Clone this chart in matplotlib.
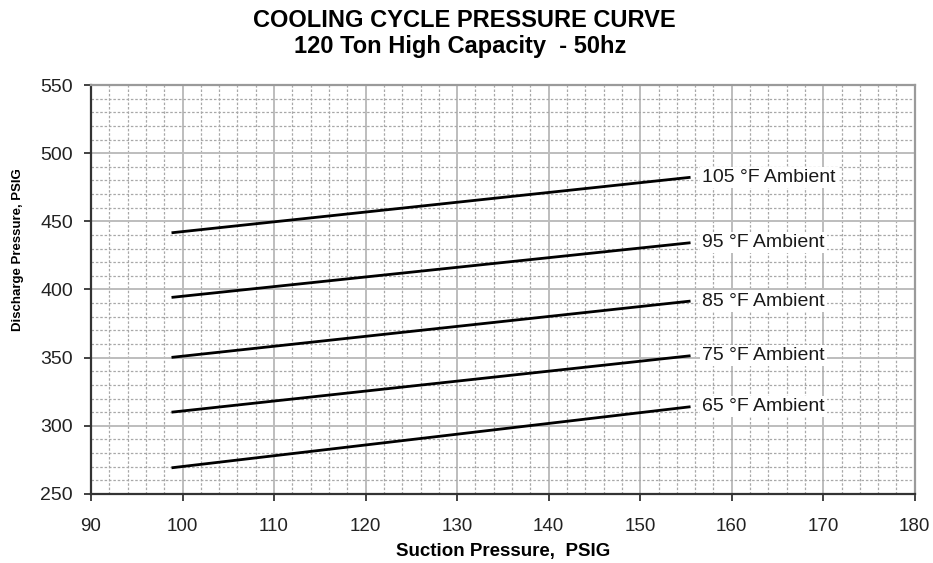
import matplotlib.pyplot as plt
from matplotlib.ticker import MultipleLocator

plt.rcParams['font.family'] = ['Liberation Sans', 'DejaVu Sans']

# Suction pressure endpoints (PSIG) shared by every curve
suction = [98.8, 155.5]

# Discharge pressure at each end for every ambient temperature
ambients = ['105 °F Ambient', '95 °F Ambient', '85 °F Ambient', '75 °F Ambient', '65 °F Ambient']
discharge = {
    '105 °F Ambient': [441.6, 482.3],
    '95 °F Ambient': [394.2, 434.3],
    '85 °F Ambient': [350.2, 391.5],
    '75 °F Ambient': [310.0, 351.4],
    '65 °F Ambient': [269.2, 314.0],
}

fig = plt.figure(figsize=(9.33, 5.63), dpi=100)
ax = fig.add_axes([0.0975, 0.1226, 0.883, 0.7264])

for name in ambients:
    y = discharge[name]
    ax.plot(suction, y, color='black', lw=2, solid_capstyle='butt', zorder=3)
    ax.text(suction[-1] + 1.3, y[-1], name, fontsize=14, va='center', ha='left',
            color='#1a1a1a',
            bbox=dict(facecolor='white', edgecolor='none', pad=1.5), zorder=4)

ax.set_xlim(90, 180)
ax.set_ylim(250, 550)
ax.xaxis.set_major_locator(MultipleLocator(10))
ax.xaxis.set_minor_locator(MultipleLocator(2))
ax.yaxis.set_major_locator(MultipleLocator(50))
ax.yaxis.set_minor_locator(MultipleLocator(10))

ax.grid(which='major', color='#bdbdbd', lw=1.4, ls='-')
ax.grid(which='minor', color='#a8a8a8', lw=0.9, ls=(0, (2, 1.5)))
ax.set_axisbelow(True)

ax.tick_params(which='major', direction='out', length=5, width=1.3, color='#333333',
               labelsize=14, labelcolor='#222222')
ax.tick_params(axis='x', which='major', pad=12, labelsize=13.5)
ax.tick_params(axis='y', which='major', pad=8)
ax.tick_params(which='minor', length=0)

for side in ['left', 'bottom']:
    ax.spines[side].set_color('#333333')
    ax.spines[side].set_linewidth(1.6)
for side in ['top', 'right']:
    ax.spines[side].set_color('#9a9a9a')
    ax.spines[side].set_linewidth(1.6)

ax.set_xlabel('Suction Pressure,  PSIG', fontsize=13.5, fontweight='bold', labelpad=6)
fig.text(0.019, 0.556, 'Discharge Pressure, PSIG', rotation=90, fontsize=9.5,
         fontweight='bold', va='center', ha='center')

fig.text(0.498, 0.963, 'COOLING CYCLE PRESSURE CURVE', fontsize=17,
         fontweight='bold', ha='center', va='center')
fig.text(0.493, 0.918, '120 Ton High Capacity  - 50hz', fontsize=17,
         fontweight='bold', ha='center', va='center')

fig.savefig('out.png', dpi=100)
